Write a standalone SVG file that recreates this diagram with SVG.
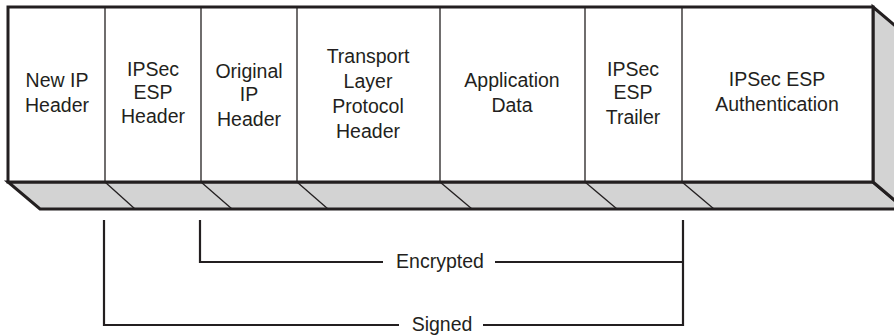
<svg xmlns="http://www.w3.org/2000/svg" width="894" height="336" viewBox="0 0 894 336">
<style>
.face{fill:#ffffff;stroke:#231f20;stroke-width:3}
.slab{fill:#d3d3d3;stroke:#231f20;stroke-width:3;stroke-linejoin:miter}
.div{stroke:#231f20;stroke-width:1.3;fill:none}
.br{stroke:#231f20;stroke-width:2.2;fill:none}
text{font-family:"Liberation Sans",Arial,sans-serif;font-size:19.5px;fill:#231f20;text-anchor:middle}
</style>
<rect width="894" height="336" fill="#ffffff"/>
<g id="packet">
<polygon class="slab" points="8,182 873,182 905,209 40,209"/>
<polygon class="slab" points="873,7 905,34 905,209 873,182"/>
<rect class="face" x="8" y="7" width="865" height="175"/>
<g class="div">
<line x1="105" y1="7" x2="105" y2="182"/>
<line x1="201" y1="7" x2="201" y2="182"/>
<line x1="297" y1="7" x2="297" y2="182"/>
<line x1="440" y1="7" x2="440" y2="182"/>
<line x1="585" y1="7" x2="585" y2="182"/>
<line x1="682" y1="7" x2="682" y2="182"/>
<line x1="105" y1="182" x2="135" y2="209"/>
<line x1="201" y1="182" x2="232" y2="209"/>
<line x1="297" y1="182" x2="328" y2="209"/>
<line x1="440" y1="182" x2="472" y2="209"/>
<line x1="585" y1="182" x2="617" y2="209"/>
<line x1="682" y1="182" x2="714" y2="209"/>
</g>
</g>
<g id="new-ip-header"><text x="57" y="87">New IP</text><text x="57" y="112">Header</text></g>
<g id="ipsec-esp-header"><text x="153" y="76">IPSec</text><text x="153" y="99">ESP</text><text x="153" y="123">Header</text></g>
<g id="original-ip-header"><text x="249" y="78">Original</text><text x="249" y="101">IP</text><text x="249" y="126">Header</text></g>
<g id="transport-header"><text x="368" y="63">Transport</text><text x="368" y="88">Layer</text><text x="368" y="113">Protocol</text><text x="368" y="138">Header</text></g>
<g id="application-data"><text x="512" y="87">Application</text><text x="512" y="112">Data</text></g>
<g id="ipsec-esp-trailer"><text x="633" y="76">IPSec</text><text x="633" y="99">ESP</text><text x="633" y="124">Trailer</text></g>
<g id="ipsec-esp-auth"><text x="777" y="86">IPSec ESP</text><text x="777" y="111">Authentication</text></g>
<g id="connectors">
<polyline class="br" points="200,220 200,262 383,262"/>
<polyline class="br" points="495,262 683,262"/>
<polyline class="br" points="104,220 104,325 399,325"/>
<polyline class="br" points="483,325 683,325 683,220"/>
</g>
<g id="encrypted-label"><text x="440" y="268">Encrypted</text></g>
<g id="signed-label"><text x="442" y="331">Signed</text></g>
</svg>
